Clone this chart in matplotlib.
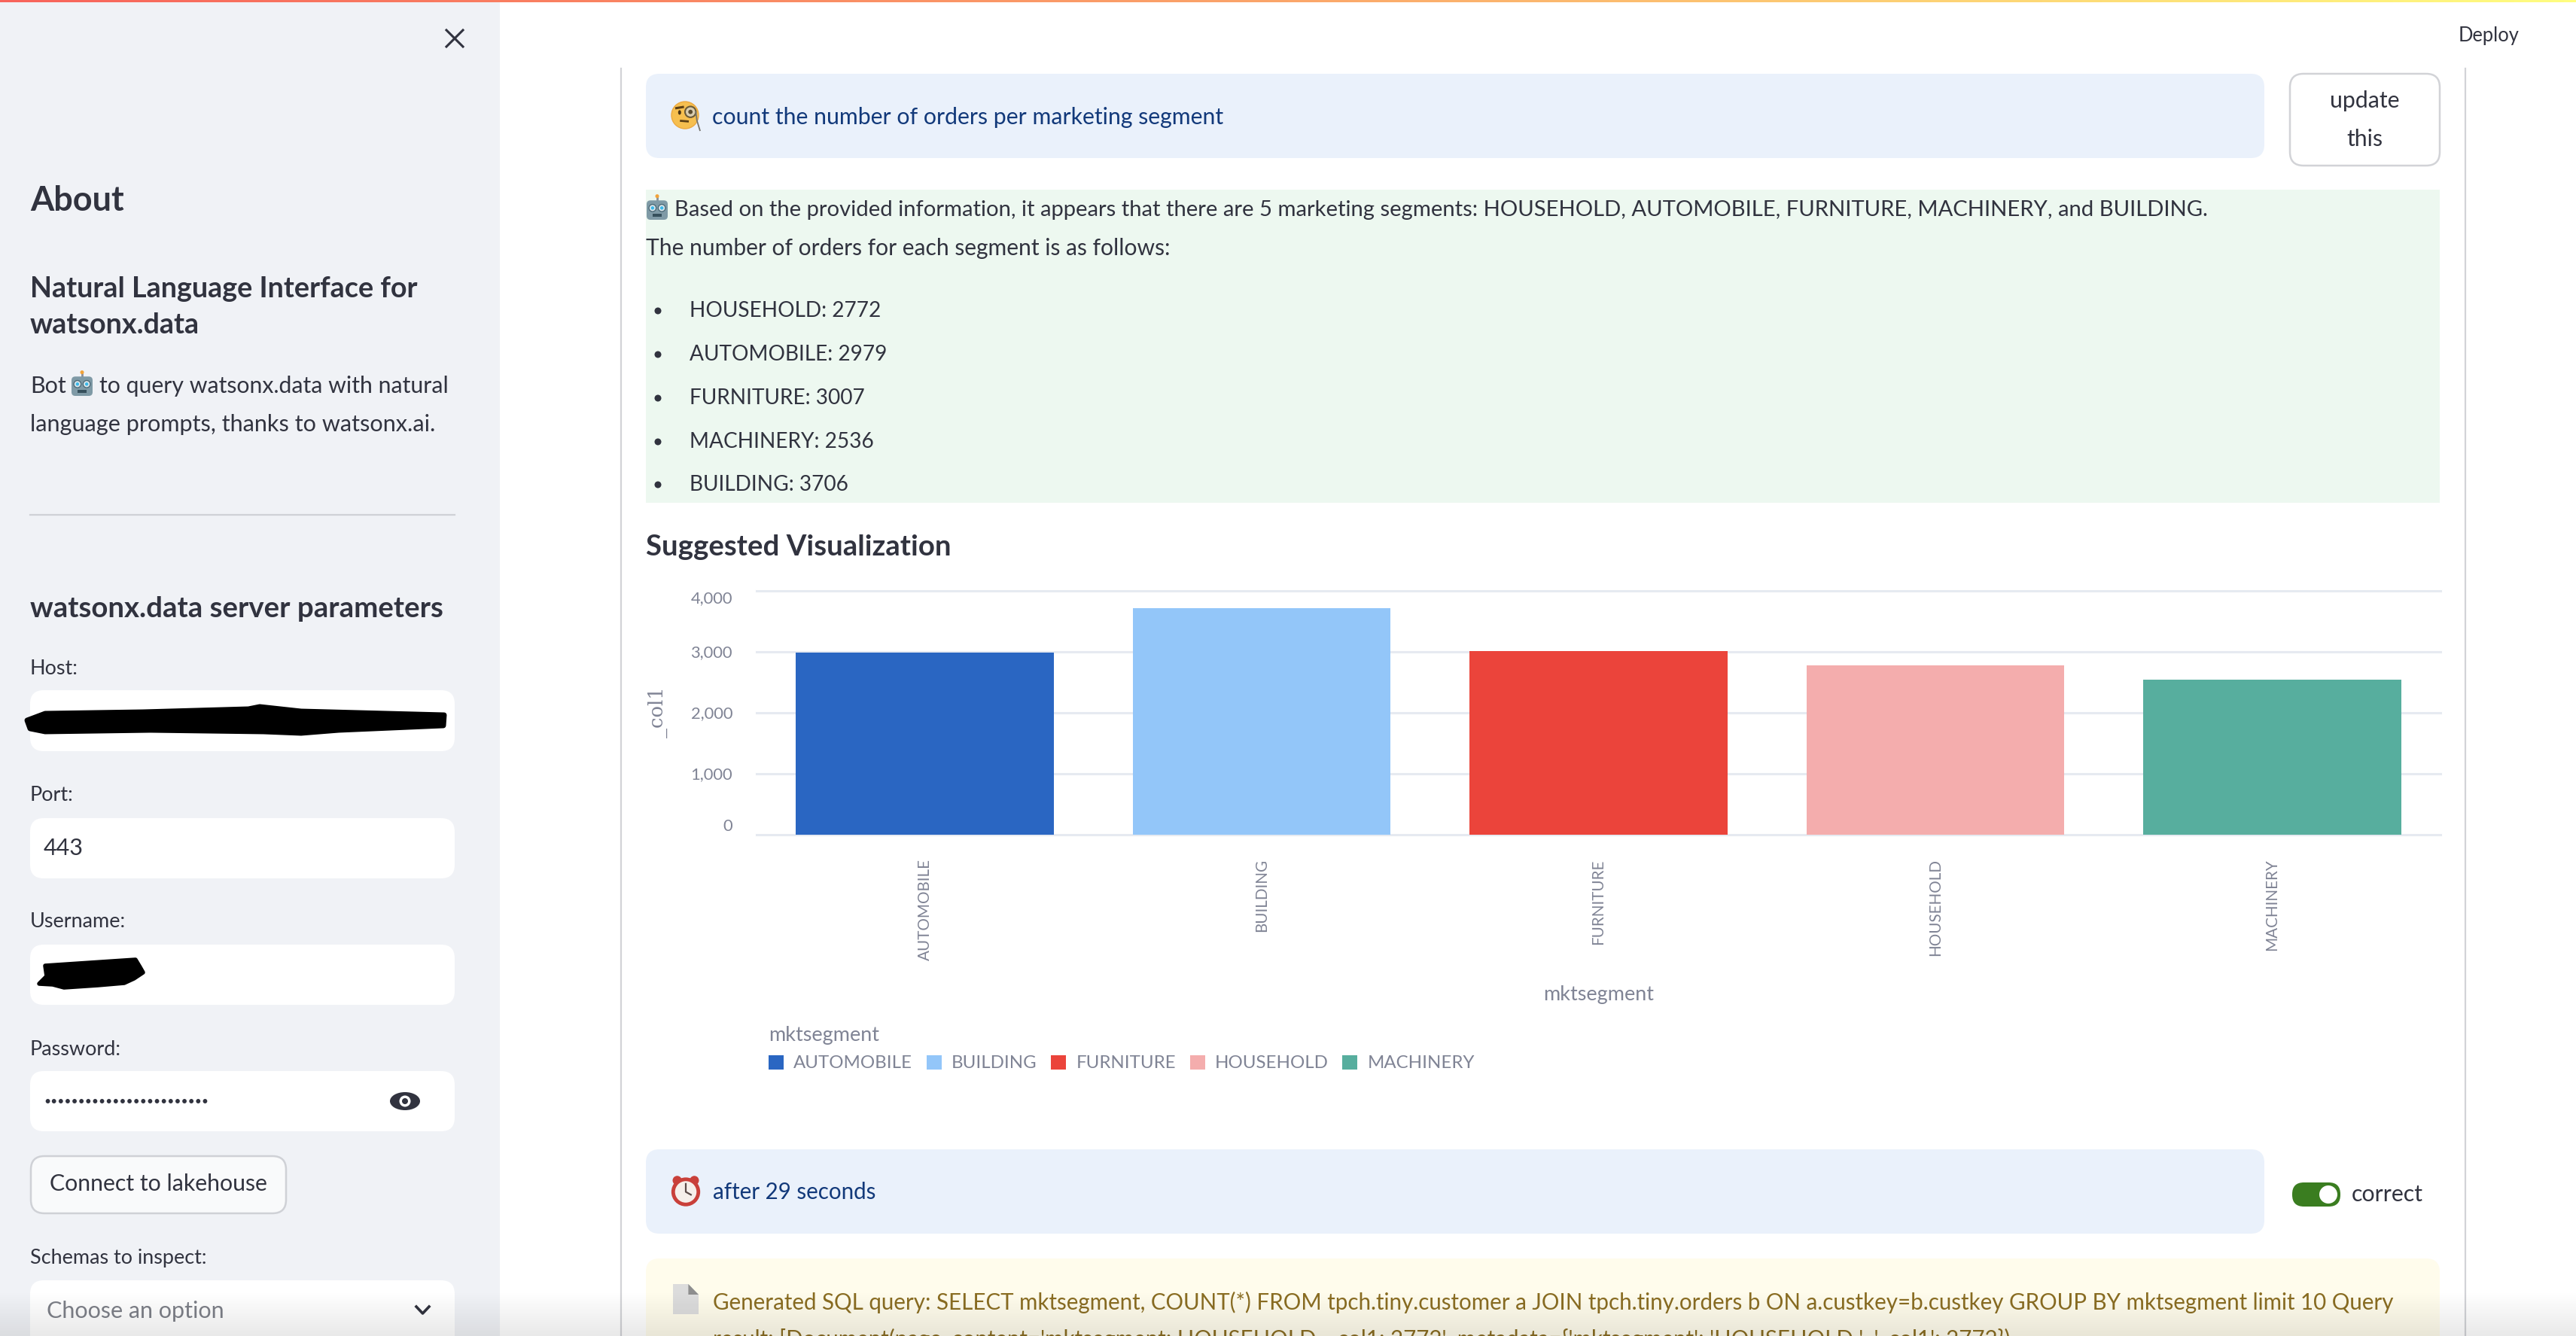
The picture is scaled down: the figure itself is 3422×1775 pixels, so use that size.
"""
Streamlit "Natural Language Interface for watsonx.data" screenshot,
rebuilt with a pixel-space overlay axes for the UI and a real axes for the bars.
"""

import numpy as np
import matplotlib
matplotlib.use("Agg")
import matplotlib.pyplot as plt
from matplotlib.patches import FancyBboxPatch, Rectangle, Circle, Ellipse, Polygon, Patch
from matplotlib.colors import LinearSegmentedColormap

W, H = 3422, 1775
DPI = 100

plt.rcParams["font.family"] = ["Lato", "DejaVu Sans"]

# ── chart data ─────────────────────────────────────────────────────────────────
segments = ["AUTOMOBILE", "BUILDING", "FURNITURE", "HOUSEHOLD", "MACHINERY"]
orders = [2979, 3706, 3007, 2772, 2536]
bar_colors = ["#2A66C2", "#93C6F9", "#EB443B", "#F4ADAD", "#57AE9E"]
y_ticks = [0, 1000, 2000, 3000, 4000]
y_tick_labels = ["0", "1,000", "2,000", "3,000", "4,000"]

# ── page text ──────────────────────────────────────────────────────────────────
ANSWER_1 = ("Based on the provided information, it appears that there are 5 marketing "
            "segments: HOUSEHOLD, AUTOMOBILE, FURNITURE, MACHINERY, and BUILDING.")
ANSWER_2 = "The number of orders for each segment is as follows:"
answer_items = ["HOUSEHOLD: 2772", "AUTOMOBILE: 2979", "FURNITURE: 3007",
                "MACHINERY: 2536", "BUILDING: 3706"]
SQL_1 = ("Generated SQL query: SELECT mktsegment, COUNT(*) FROM tpch.tiny.customer a JOIN "
         "tpch.tiny.orders b ON a.custkey=b.custkey GROUP BY mktsegment limit 10 Query")
SQL_2 = ("result: [Document(page_content='mktsegment: HOUSEHOLD  _col1: 2772', "
         "metadata={'mktsegment': 'HOUSEHOLD ', '_col1': 2772})")

# ── palette ────────────────────────────────────────────────────────────────────
SIDEBAR = "#F0F2F6"
INK = "#31333F"
BLUE_BG = "#EAF1FB"
BLUE_TXT = "#12397A"
GREEN_BG = "#EDF8F0"
YELLOW_BG = "#FFFCEC"
YELLOW_TXT = "#8A6D22"
BORDER = "#D2D3D7"
AXIS_TXT = "#808495"
GRID = "#E6EAF1"

fig = plt.figure(figsize=(W / DPI, H / DPI), dpi=DPI, facecolor="white")

# overlay in image pixels, y down
ui = fig.add_axes([0, 0, 1, 1], zorder=0)
ui.set_xlim(0, W)
ui.set_ylim(H, 0)
ui.axis("off")


def px(size):
    return size * 72 / DPI


def label(x, y, s, size=30, color=INK, weight="normal", ha="left", **kw):
    return ui.text(x, y + 3, s, fontsize=px(size), color=color, fontweight=weight,
                   ha=ha, va="center", **kw)


def box(x0, y0, x1, y1, color, edge="none", r=18, lw=0, z=1):
    ui.add_patch(FancyBboxPatch((x0 + r, y0 + r), x1 - x0 - 2 * r, y1 - y0 - 2 * r,
                                boxstyle=f"round,pad={r},rounding_size={r}",
                                fc=color, ec=edge, lw=lw, zorder=z))


def robot(cx, cy, s):
    ui.plot([cx, cx], [cy - s * 0.62, cy - s * 0.4], color="#8A8F98", lw=2, zorder=3)
    ui.add_patch(Circle((cx, cy - s * 0.62), s * 0.09, fc="#F2A33A", ec="none", zorder=3))
    box(cx - s * 0.5, cy - s * 0.42, cx + s * 0.5, cy + s * 0.5, "#7F9AA6", r=s * 0.18, z=3)
    for dx in (-0.22, 0.22):
        ui.add_patch(Circle((cx + dx * s, cy - s * 0.06), s * 0.17, fc="#DDE8EC",
                            ec="#4E6B78", lw=1, zorder=4))
        ui.add_patch(Circle((cx + dx * s, cy - s * 0.06), s * 0.08, fc="#3BB7E8", ec="none", zorder=5))
    ui.add_patch(Rectangle((cx - s * 0.2, cy + s * 0.22), s * 0.4, s * 0.12, fc="#36505C", ec="none", zorder=4))


def monocle_face(cx, cy, s):
    ui.add_patch(Circle((cx, cy), s / 2, fc="#F6BF4F", ec="#EDA93F", lw=1, zorder=3))
    # left eye and brow
    ui.add_patch(Ellipse((cx - s * 0.2, cy - s * 0.1), s * 0.11, s * 0.17, fc="#4A3312", ec="none", zorder=4))
    ui.plot([cx - s * 0.32, cx - s * 0.08], [cy - s * 0.26, cy - s * 0.3], color="#5C3F14", lw=2.2, zorder=4)
    # monocle with its chain
    ui.add_patch(Circle((cx + s * 0.2, cy - s * 0.12), s * 0.2, fc="#D9CDB0", ec="#6A5A38", lw=1.5, zorder=4))
    ui.add_patch(Circle((cx + s * 0.2, cy - s * 0.12), s * 0.08, fc="#5A4A2E", ec="none", zorder=5))
    ui.plot([cx + s * 0.4, cx + s * 0.44, cx + s * 0.55], [cy - s * 0.12, cy + s * 0.2, cy + s * 0.56],
            color="#77756E", lw=1.3, zorder=5)
    ui.plot([cx - s * 0.15, cx + s * 0.1], [cy + s * 0.21, cy + s * 0.23], color="#5C3F14", lw=2, zorder=4)


def alarm_clock(cx, cy, s):
    for dx in (-0.3, 0.3):
        ui.add_patch(Circle((cx + dx * s, cy - s * 0.36), s * 0.16, fc="#C9403A", ec="none", zorder=3))
    ui.add_patch(Circle((cx, cy + s * 0.04), s * 0.44, fc="#F6EFEA", ec="#C9403A", lw=3.5, zorder=4))
    ui.plot([cx, cx, cx + s * 0.18], [cy - s * 0.24, cy + s * 0.04, cy + s * 0.14],
            color="#5A4A48", lw=1.6, zorder=5)


def document(cx, cy, w, h):
    ui.add_patch(Polygon([(cx - w / 2, cy - h / 2), (cx + w * 0.1, cy - h / 2), (cx + w / 2, cy - h * 0.15),
                          (cx + w / 2, cy + h / 2), (cx - w / 2, cy + h / 2)],
                         closed=True, fc="#DCDCDC", ec="none", zorder=3))
    ui.add_patch(Polygon([(cx + w * 0.1, cy - h / 2), (cx + w / 2, cy - h * 0.15), (cx + w * 0.1, cy - h * 0.15)],
                         closed=True, fc="#8E8E8E", ec="none", zorder=4))


# ── page chrome ────────────────────────────────────────────────────────────────
ui.add_patch(Rectangle((0, 0), 664, H, fc=SIDEBAR, ec="none", zorder=0))
ramp = LinearSegmentedColormap.from_list("ramp", ["#F8645B", "#FBA66A", "#FFFD80"])
ui.imshow(np.linspace(0, 1, 512)[None, :], cmap=ramp, extent=(0, W, 3, 0), aspect="auto", zorder=6)
ui.set_xlim(0, W)
ui.set_ylim(H, 0)

label(3306, 45, "Deploy", size=25.5, ha="center")
ui.plot([825, 825], [91, H], color=BORDER, lw=1.6, zorder=1)
ui.plot([3275, 3275], [91, H], color=BORDER, lw=1.6, zorder=1)

# ── sidebar ────────────────────────────────────────────────────────────────────
ui.plot([593, 615], [40, 62], color=INK, lw=2.2, zorder=3)
ui.plot([593, 615], [62, 40], color=INK, lw=2.2, zorder=3)
label(40, 264, "About", size=45, weight="bold")
label(40, 381, "Natural Language Interface for", size=37.8, weight="bold")
label(40, 429, "watsonx.data", size=37.8, weight="bold")
label(40, 510, "Bot", size=30.5)
robot(109, 512, 28)
label(132, 510, "to query watsonx.data with natural", size=30.3)
label(40, 561, "language prompts, thanks to watsonx.ai.", size=30.7)
ui.plot([40, 604], [684, 684], color="#CFD1D6", lw=1.6, zorder=1)
label(40, 806, "watsonx.data server parameters", size=38.4, weight="bold")

label(40, 885, "Host:", size=27)
box(40, 917, 604, 998, "white")
ui.add_patch(Polygon([(36, 957), (60, 948), (190, 946), (330, 942), (345, 939), (400, 945),
                      (590, 950), (589, 964), (450, 970), (400, 974), (350, 972), (200, 970),
                      (60, 972), (40, 968)], closed=True, fc="black", ec="black", lw=5,
                     joinstyle="round", zorder=3))

label(40, 1053, "Port:", size=27)
box(40, 1087, 604, 1167, "white")
label(58, 1124, "443", size=30.5)

label(40, 1222, "Username:", size=27)
box(40, 1255, 604, 1335, "white")
ui.add_patch(Polygon([(60, 1283), (120, 1279), (180, 1275), (186, 1285), (190, 1292), (178, 1300),
                      (165, 1306), (130, 1309), (85, 1312), (70, 1308), (52, 1307), (62, 1297)],
                     closed=True, fc="black", ec="black", lw=4, joinstyle="round", zorder=3))

label(40, 1391, "Password:", size=27)
box(40, 1423, 604, 1503, "white")
label(58, 1461, "•" * 24, size=16)
ui.add_patch(Ellipse((538, 1463), 40, 24, fc=INK, ec="none", zorder=3))
ui.add_patch(Circle((538, 1463), 7.5, fc="white", ec="none", zorder=4))
ui.add_patch(Circle((538, 1463), 4, fc=INK, ec="none", zorder=5))

box(41, 1536, 380, 1612, "#F9FAFB", edge="#CFD1D6", lw=1.8)
label(210, 1570, "Connect to lakehouse", size=30.3, ha="center")

label(40, 1669, "Schemas to inspect:", size=27)
box(40, 1701, 604, 1800, "white")
label(62, 1739, "Choose an option", size=30.5, color="#7D8088")
ui.plot([553, 561.5, 570], [1736, 1745, 1736], color=INK, lw=2.6, zorder=3)

# ── question row ───────────────────────────────────────────────────────────────
box(858, 98, 3008, 210, BLUE_BG)
monocle_face(910, 153, 36)
label(946, 153, "count the number of orders per marketing segment", size=30.3, color=BLUE_TXT)
box(3042, 98, 3241, 220, "white", edge=BORDER, lw=1.8)
label(3141, 131, "update", size=30.2, ha="center")
label(3141, 182, "this", size=30.2, ha="center")

# ── answer ─────────────────────────────────────────────────────────────────────
ui.add_patch(Rectangle((858, 252), 2383, 416, fc=GREEN_BG, ec="none", zorder=1))
robot(873, 278, 28)
label(896, 276, ANSWER_1, size=29.2)
label(858, 327, ANSWER_2, size=30)
for item, ypos in zip(answer_items, [410, 468, 526, 584, 641]):
    ui.add_patch(Circle((874, ypos + 3), 4.5, fc=INK, ec="none", zorder=3))
    label(916, ypos, item, size=28)

label(858, 724, "Suggested Visualization", size=38.4, weight="bold")

# ── bar chart ──────────────────────────────────────────────────────────────────
left, right = 1005, 3242
top, bottom = 784.6, 1108.5
ax = fig.add_axes([left / W, 1 - bottom / H, (right - left) / W, (bottom - top) / H], zorder=2)
ax.patch.set_alpha(0)
ax.bar(segments, orders, width=0.766, color=bar_colors, zorder=3)
ax.set_xlim(-0.5, 4.5)
ax.set_ylim(0, 4000)
ax.set_yticks(y_ticks, y_tick_labels)
ax.grid(axis="y", color=GRID, lw=2.2, zorder=0, clip_on=False)
ax.set_axisbelow(True)
ax.tick_params(axis="both", length=0, colors=AXIS_TXT)
ax.tick_params(axis="y", labelsize=px(22), pad=px(32))
ax.tick_params(axis="x", labelsize=px(20.6), pad=px(33), labelrotation=90)
for sp in ax.spines.values():
    sp.set_visible(False)
# first and last y labels are pulled inside the plot height
tick_texts = ax.get_yticklabels()
tick_texts[0].set_va("bottom")
tick_texts[-1].set_va("top")
ax.set_xlabel("mktsegment", fontsize=px(27), color=AXIS_TXT)
ax.xaxis.set_label_coords(0.5, 1 - (1321 - top) / (bottom - top), transform=ax.transAxes)
ax.xaxis.label.set_va("center")
ax.set_ylabel("_col1", fontsize=px(26), color=AXIS_TXT, family="DejaVu Serif")
ax.yaxis.set_label_coords((874 - left) / (right - left), 0.5, transform=ax.transAxes)
ax.yaxis.label.set_va("center")

handles = [Patch(fc=c, ec="none", label=s) for c, s in zip(bar_colors, segments)]
leg = ax.legend(handles=handles, ncol=5, title="mktsegment", frameon=False, alignment="left",
                loc="upper left", bbox_to_anchor=(1021 / W, 1 - 1363 / H),
                bbox_transform=fig.transFigure, fontsize=px(24), title_fontsize=px(27),
                labelcolor=AXIS_TXT, handlelength=0.83, handleheight=0.83, handletextpad=0.55,
                columnspacing=0.78, borderpad=0, borderaxespad=0, labelspacing=0.57)
leg.get_title().set_color(AXIS_TXT)

# ── footer rows ────────────────────────────────────────────────────────────────
box(858, 1527, 3008, 1639, BLUE_BG)
alarm_clock(911, 1582, 38)
label(947, 1581, "after 29 seconds", size=29.5, color=BLUE_TXT)
box(3045, 1571, 3109, 1603, "#3A7D20", r=15.5)
ui.add_patch(Circle((3093, 1587), 12, fc="white", ec="none", zorder=3))
label(3124, 1584, "correct", size=30.2)

box(858, 1672, 3241, 1830, YELLOW_BG)
document(911, 1726, 34, 40)
label(947, 1727, SQL_1, size=29.5, color=YELLOW_TXT)
label(947, 1776, SQL_2, size=29.5, color=YELLOW_TXT)

# soft shadow along the bottom edge of the screenshot
fade = np.zeros((60, 2, 4))
fade[..., 3] = np.linspace(0, 0.09, 60)[:, None]
ui.imshow(fade, extent=(0, W, H, H - 60), aspect="auto", zorder=7)
ui.set_xlim(0, W)
ui.set_ylim(H, 0)

fig.savefig("out.png", dpi=DPI, facecolor="white")
